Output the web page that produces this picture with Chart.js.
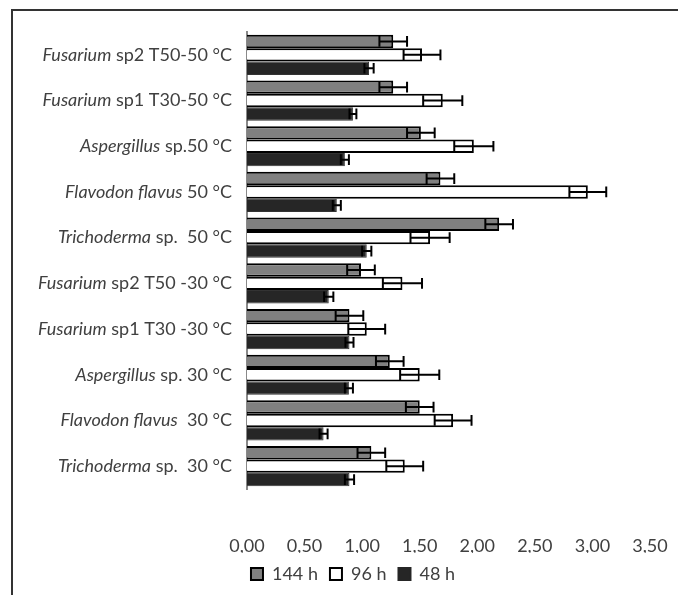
<!DOCTYPE html>
<html>
<head>
<meta charset="utf-8">
<script src="https://cdn.jsdelivr.net/npm/chart.js@4.4.1/dist/chart.umd.min.js"></script>
<style>
  html, body { margin: 0; padding: 0; background: #fff; }
  #wrap { width: 678px; height: 595px; position: relative; }
</style>
</head>
<body>
<div id="wrap"><canvas id="chart" width="678" height="595"></canvas></div>
<script>
// category labels: italic part + plain part
const labelItalic = ['Fusarium', 'Fusarium', 'Aspergillus', 'Flavodon flavus', 'Trichoderma',
  'Fusarium', 'Fusarium', 'Aspergillus', 'Flavodon flavus', 'Trichoderma'];
const labelPlain = [' sp2 T50-50 °C', ' sp1 T30-50 °C', ' sp.50 °C', ' 50 °C', ' sp.  50 °C',
  ' sp2 T50 -30 °C', ' sp1 T30 -30 °C', ' sp. 30 °C', '  30 °C', ' sp.  30 °C'];
const categories = labelItalic.map((s, i) => s + labelPlain[i]);

const seriesNames = ['144 h', '96 h', '48 h'];
const values144 = [1.27, 1.27, 1.51, 1.68, 2.19, 0.99, 0.89, 1.24, 1.50, 1.08];
const values96  = [1.52, 1.70, 1.97, 2.96, 1.59, 1.35, 1.04, 1.50, 1.79, 1.37];
const values48  = [1.06, 0.92, 0.85, 0.78, 1.04, 0.71, 0.89, 0.885, 0.665, 0.89];
const err144 = [0.12, 0.12, 0.12, 0.12, 0.12, 0.12, 0.12, 0.12, 0.12, 0.12];
const err96  = [0.16, 0.17, 0.17, 0.16, 0.17, 0.17, 0.16, 0.17, 0.16, 0.16];
const err48  = [0.04, 0.03, 0.035, 0.035, 0.04, 0.04, 0.035, 0.035, 0.035, 0.04];
const xTicks = [0, 0.5, 1, 1.5, 2, 2.5, 3, 3.5];

const FONT = 'Lato';
const FSIZE = 18;
const TEXT = '#404040';

const frame = {
  id: 'frame',
  beforeDraw(chart) {
    const c = chart.ctx;
    c.save();
    c.strokeStyle = '#333';
    c.lineWidth = 2;
    c.beginPath();
    c.moveTo(12, 595);
    c.lineTo(12, 10);
    c.lineTo(678, 10);
    c.stroke();
    c.restore();
  }
};

const errorBars = {
  id: 'errorBars',
  afterDatasetsDraw(chart) {
    const c = chart.ctx;
    const xs = chart.scales.x;
    c.save();
    c.strokeStyle = '#000';
    c.lineWidth = 2;
    chart.data.datasets.forEach((ds, di) => {
      const meta = chart.getDatasetMeta(di);
      meta.data.forEach((bar, i) => {
        const v = ds.data[i], e = ds.errors[i];
        const x0 = xs.getPixelForValue(v - e), x1 = xs.getPixelForValue(v + e);
        const y = bar.y, h = bar.height * 0.4;
        c.beginPath();
        c.moveTo(x0, y); c.lineTo(x1, y);
        c.moveTo(x0, y - h); c.lineTo(x0, y + h);
        c.moveTo(x1, y - h); c.lineTo(x1, y + h);
        c.stroke();
      });
    });
    c.restore();
  }
};

const catLabels = {
  id: 'catLabels',
  afterDraw(chart) {
    const c = chart.ctx;
    const ys = chart.scales.y;
    const right = 232;
    c.save();
    c.fillStyle = TEXT;
    c.textBaseline = 'middle';
    c.textAlign = 'right';
    categories.forEach((_, i) => {
      const y = ys.getPixelForValue(i);
      c.font = `${FSIZE}px ${FONT}`;
      const wp = c.measureText(labelPlain[i]).width;
      c.fillText(labelPlain[i], right, y);
      c.font = `italic ${FSIZE}px ${FONT}`;
      c.fillText(labelItalic[i], right - wp, y);
    });
    c.restore();
  }
};

new Chart(document.getElementById('chart'), {
  type: 'bar',
  data: {
    labels: categories,
    datasets: [
      { label: seriesNames[0], data: values144, errors: err144,
        backgroundColor: '#808080', borderColor: '#000', borderWidth: 2 },
      { label: seriesNames[1], data: values96, errors: err96,
        backgroundColor: '#ffffff', borderColor: '#000', borderWidth: 2 },
      { label: seriesNames[2], data: values48, errors: err48,
        backgroundColor: '#262626', borderColor: '#333', borderWidth: 1 }
    ]
  },
  options: {
    indexAxis: 'y',
    responsive: false,
    animation: false,
    devicePixelRatio: 1,
    layout: { padding: { top: 32, left: 56, right: 28, bottom: 2 } },
    datasets: { bar: { barPercentage: 1, categoryPercentage: 0.88 } },
    scales: {
      y: {
        grid: { display: false, drawTicks: false },
        border: { display: true, color: '#898989', width: 2 },
        ticks: { display: false },
        afterFit: s => { s.width = 191; }
      },
      x: {
        min: 0, max: 3.5,
        afterBuildTicks: s => { s.ticks = xTicks.map(v => ({ value: v })); },
        afterFit: s => { s.height = 64; s.paddingLeft = 0; s.paddingRight = 0; },
        grid: { display: false, drawTicks: false },
        border: { display: false },
        ticks: {
          color: TEXT, font: { family: FONT, size: FSIZE }, padding: 46,
          maxRotation: 0, minRotation: 0,
          callback: v => Number(v).toFixed(2).replace('.', ',')
        }
      }
    },
    plugins: {
      tooltip: { enabled: false },
      legend: {
        position: 'bottom',
        labels: {
          color: TEXT, font: { family: FONT, size: FSIZE },
          boxWidth: 12, boxHeight: 12, padding: 12,
          generateLabels: chart => chart.data.datasets.map((ds, i) => ({
            text: ds.label,
            fillStyle: ds.backgroundColor,
            strokeStyle: i === 2 ? ds.backgroundColor : '#000',
            lineWidth: 2,
            fontColor: TEXT,
            datasetIndex: i
          }))
        }
      }
    }
  },
  plugins: [frame, errorBars, catLabels]
});
</script>
</body>
</html>
